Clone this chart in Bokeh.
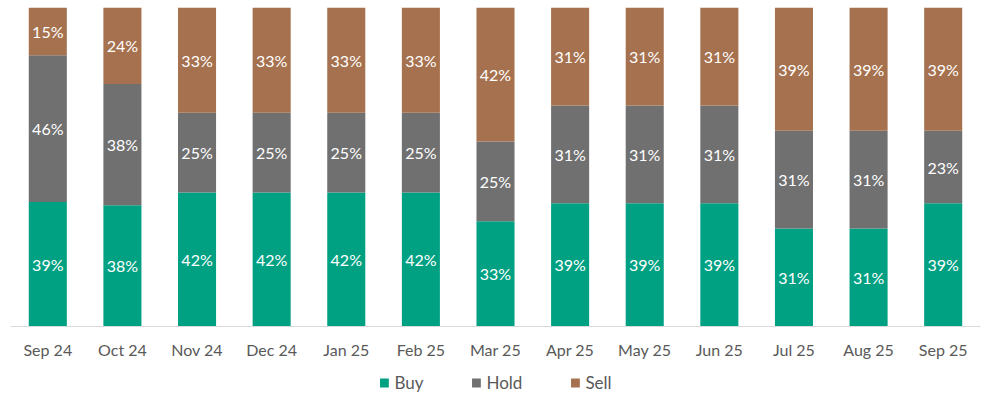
from bokeh.plotting import figure
from bokeh.layouts import column
from bokeh.models import ColumnDataSource, FactorRange, Range1d, Legend, LegendItem
from bokeh.core.properties import value
from bokeh.embed import file_html
from bokeh.resources import INLINE

months = ["Sep 24", "Oct 24", "Nov 24", "Dec 24", "Jan 25", "Feb 25", "Mar 25",
          "Apr 25", "May 25", "Jun 25", "Jul 25", "Aug 25", "Sep 25"]
buy = [39, 38, 42, 42, 42, 42, 33, 39, 39, 39, 31, 31, 39]
hold = [46, 38, 25, 25, 25, 25, 25, 31, 31, 31, 31, 31, 23]
sell = [15, 24, 33, 33, 33, 33, 42, 31, 31, 31, 39, 39, 39]
series = ["Buy", "Hold", "Sell"]

colors = {"Buy": "#00A082", "Hold": "#707070", "Sell": "#A6714E"}
FONT = "Lato"

tot = [b + h + s for b, h, s in zip(buy, hold, sell)]
fb = [b / t for b, t in zip(buy, tot)]
fh = [h / t for h, t in zip(hold, tot)]
fs = [s / t for s, t in zip(sell, tot)]

src = ColumnDataSource(dict(
    x=months, Buy=fb, Hold=fh, Sell=fs,
    yb=[v / 2 for v in fb],
    yh=[b + h / 2 for b, h in zip(fb, fh)],
    ys=[b + h + s / 2 for b, h, s in zip(fb, fh, fs)],
    lb=[f"{v}%" for v in buy], lh=[f"{v}%" for v in hold], ls=[f"{v}%" for v in sell],
))

p = figure(frame_width=970, frame_height=319, x_range=FactorRange(*months, range_padding=0),
           y_range=Range1d(0, 1), output_backend="svg", toolbar_location=None,
           min_border_left=10, min_border_right=13, min_border_top=7, min_border_bottom=0)

p.vbar_stack(series, x="x", width=0.51, source=src,
             color=[colors[k] for k in series], line_color=None)

for ycol, lcol in [("yb", "lb"), ("yh", "lh"), ("ys", "ls")]:
    p.text(x="x", y=ycol, text=lcol, source=src, text_color="white",
           text_font=value(FONT), text_font_size="16px",
           text_align="center", text_baseline="middle")

p.yaxis.visible = False
p.xgrid.visible = False
p.ygrid.visible = False
p.outline_line_color = None
p.xaxis.axis_line_color = "#D9D9D9"
p.xaxis.major_tick_line_color = None
p.xaxis.minor_tick_line_color = None
p.xaxis.major_tick_out = 0
p.xaxis.major_tick_in = 0
p.xaxis.major_label_text_font = FONT
p.xaxis.major_label_text_font_size = "16px"
p.xaxis.major_label_text_color = "#595959"
p.xaxis.major_label_standoff = 13

# legend strip (hidden renderers only supply the legend swatches)
p2 = figure(width=993, height=37, output_backend="svg", toolbar_location=None,
            x_range=FactorRange(*months), y_range=Range1d(0, 1),
            x_axis_location=None, y_axis_location=None,
            min_border_left=0, min_border_right=0, min_border_top=0, min_border_bottom=0)
p2.xgrid.visible = False
p2.ygrid.visible = False
p2.outline_line_color = None
swatches = []
for k in series:
    r = p2.vbar(x="x", top=k, width=0.5, source=src, color=colors[k], line_color=None)
    r.visible = False
    swatches.append(r)

legend = Legend(items=[LegendItem(label=k, renderers=[r]) for k, r in zip(series, swatches)],
                orientation="horizontal", location="top_center",
                glyph_width=11, glyph_height=11, label_standoff=5, spacing=47, label_height=19,
                label_text_font=FONT, label_text_font_size="17px", label_text_color="#595959",
                border_line_color=None, background_fill_alpha=0, padding=2, margin=11)
p2.add_layout(legend, "center")

layout = column(p, p2, spacing=0)
open("out.html", "w").write(file_html(layout, INLINE))
